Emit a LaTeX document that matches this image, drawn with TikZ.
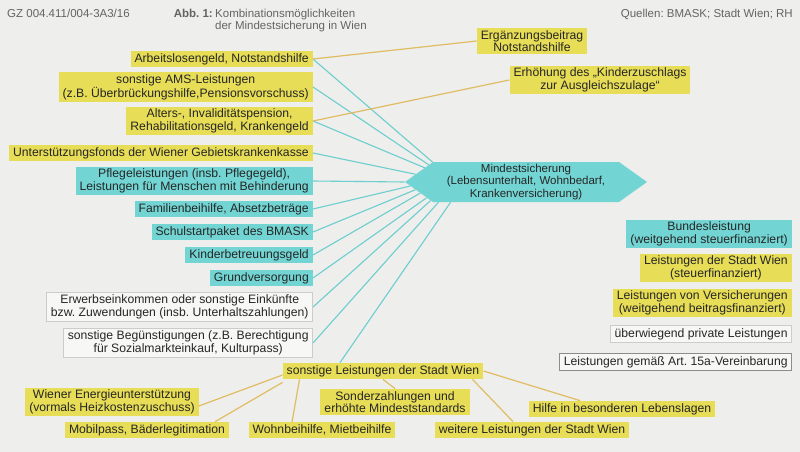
\documentclass[tikz,border=0pt]{standalone}
\usepackage{fontspec}
\setmainfont{Liberation Sans}
\frenchspacing
\usetikzlibrary{shapes.symbols}
\definecolor{hintergrund}{RGB}{238,238,236}
\definecolor{gelb}{RGB}{231,221,86}
\definecolor{tuerkis}{RGB}{114,213,211}
\definecolor{linieblau}{RGB}{108,206,206}
\definecolor{liniegelb}{RGB}{224,188,98}
\definecolor{grau}{RGB}{100,100,100}
\begin{document}
\begin{tikzpicture}[x=1pt,y=-1pt,
  box/.style={inner xsep=4pt,inner ysep=2.5pt,align=center,
    font=\fontsize{12.2}{12.6}\selectfont,text=black!85},
  bgelb/.style={box,fill=gelb},
  btuerkis/.style={box,fill=tuerkis},
  bweiss/.style={box,fill=white!55!hintergrund,draw=black!20,line width=0.8pt},
  kopf/.style={text=grau,font=\fontsize{11.5}{12.5}\selectfont,inner sep=0pt},
  lblau/.style={draw=linieblau,line width=1.1pt},
  lgelb/.style={draw=liniegelb,line width=1.2pt}]
% Hintergrund
\fill[hintergrund] (0,0) rectangle (800,452);
\useasboundingbox (0,0) rectangle (800,452);
% Kopfzeile
\node[kopf,anchor=base west] (gz) at (7,18) {GZ 004.411/004-3A3/16};
\node[kopf,anchor=base east,font=\fontsize{11.5}{12.5}\selectfont\bfseries] (abb) at (213,18) {Abb. 1:};
\node[kopf,anchor=base west] (titel1) at (215,18) {Kombinationsmöglichkeiten};
\node[kopf,anchor=base west] (titel2) at (215,30) {der Mindestsicherung in Wien};
\node[kopf,anchor=base east] (quellen) at (793,18) {Quellen: BMASK; Stadt Wien; RH};
% Mindestsicherung
\node[signal,signal to=east and west,signal pointer angle=71,fill=tuerkis,
  minimum height=40pt,minimum width=242pt,inner sep=2pt,align=center,
  font=\fontsize{11.5}{12.5}\selectfont,text=black!85] (ms) at (526,182)
  {Mindestsicherung\\(Lebensunterhalt, Wohnbedarf,\\Krankenversicherung)};
% linke Spalte
\node[bgelb,anchor=east] (alg) at (313,59) {Arbeitslosengeld, Notstandshilfe};
\node[bgelb,anchor=east] (ams) at (313,87) {sonstige AMS-Leistungen\\(z.B. Überbrückungshilfe,Pensionsvorschuss)};
\node[bgelb,anchor=east] (alt) at (313,121) {Alters-, Invaliditätspension,\\Rehabilitationsgeld, Krankengeld};
\node[bgelb,anchor=east] (ugk) at (313,153) {Unterstützungsfonds der Wiener Gebietskrankenkasse};
\node[btuerkis,anchor=east] (pfl) at (313,181) {Pflegeleistungen (insb. Pflegegeld),\\Leistungen für Menschen mit Behinderung};
\node[btuerkis,anchor=east] (fam) at (313,209) {Familienbeihilfe, Absetzbeträge};
\node[btuerkis,anchor=east] (sch) at (313,232) {Schulstartpaket des BMASK};
\node[btuerkis,anchor=east] (kbg) at (313,255) {Kinderbetreuungsgeld};
\node[btuerkis,anchor=east] (gvs) at (313,278) {Grundversorgung};
\node[bweiss,anchor=east] (erw) at (313,307) {Erwerbseinkommen oder sonstige Einkünfte\\bzw. Zuwendungen (insb. Unterhaltszahlungen)};
\node[bweiss,anchor=east] (beg) at (313,343) {sonstige Begünstigungen (z.B. Berechtigung\\für Sozialmarkteinkauf, Kulturpass)};
% oben rechts
\node[bgelb] (erg) at (532,41) {Ergänzungsbeitrag\\Notstandshilfe};
\node[bgelb] (kiz) at (600,80) {Erhöhung des „Kinderzuschlags\\zur Ausgleichszulage“};
% unten
\node[bgelb] (sls) at (383,371) {sonstige Leistungen der Stadt Wien};
\node[bgelb] (wen) at (112,402) {Wiener Energieunterstützung\\(vormals Heizkostenzuschuss)};
\node[bgelb] (mob) at (147,430) {Mobilpass, Bäderlegitimation};
\node[bgelb] (wbh) at (322,430) {Wohnbeihilfe, Mietbeihilfe};
\node[bgelb] (sdz) at (395,402) {Sonderzahlungen und\\erhöhte Mindeststandards};
\node[bgelb] (wls) at (532,430) {weitere Leistungen der Stadt Wien};
\node[bgelb] (hbl) at (622,409) {Hilfe in besonderen Lebenslagen};
% Legende
\node[btuerkis,anchor=east] (lbund) at (792,234) {Bundesleistung\\(weitgehend steuerfinanziert)};
\node[bgelb,anchor=east] (lstadt) at (792,268) {Leistungen der Stadt Wien\\(steuerfinanziert)};
\node[bgelb,anchor=east] (lvers) at (792,303) {Leistungen von Versicherungen\\(weitgehend beitragsfinanziert)};
\node[bweiss,anchor=east] (lpriv) at (792,334) {überwiegend private Leistungen};
\node[bweiss,anchor=east,draw=black!45] (l15a) at (792,362) {Leistungen gemäß Art. 15a-Vereinbarung};
% Verbindungen zur Mindestsicherung
\draw[lblau] (alg.east) -- (ms.168);
\draw[lblau] (ams.east) -- (ms.170);
\draw[lblau] (alt.east) -- (ms.172.5);
\draw[lblau] (ugk.east) -- (ms.176.5);
\draw[lblau] (pfl.east) -- (ms.180);
\draw[lblau] (fam.east) -- (ms.182);
\draw[lblau] (sch.east) -- (ms.184.2);
\draw[lblau] (kbg.east) -- (ms.186.6);
\draw[lblau] (gvs.east) -- (ms.189.3);
\draw[lblau] (erw.east) -- (ms.191.7);
\draw[lblau] (beg.east) -- (ms.193.9);
\draw[lblau] ([xshift=-43pt]sls.north) -- (ms.195.7);
% Stadt Wien
\draw[lgelb] (alg.east) -- (erg.west);
\draw[lgelb] (alt.east) -- (kiz.west);
\draw[lgelb] ([yshift=-4pt]sls.west) -- ([yshift=-4pt]wen.east);
\draw[lgelb] ([yshift=-3pt]sls.south west) -- ([xshift=-14pt]mob.north east);
\draw[lgelb] ([xshift=17pt]sls.south west) -- ([xshift=-30pt]wbh.north);
\draw[lgelb] (sls.south) -- (sdz.north);
\draw[lgelb] ([xshift=-11pt]sls.south east) -- ([xshift=-19pt]wls.north);
\draw[lgelb] (sls.east) -- ([xshift=-42pt]hbl.north);
\end{tikzpicture}
\end{document}
